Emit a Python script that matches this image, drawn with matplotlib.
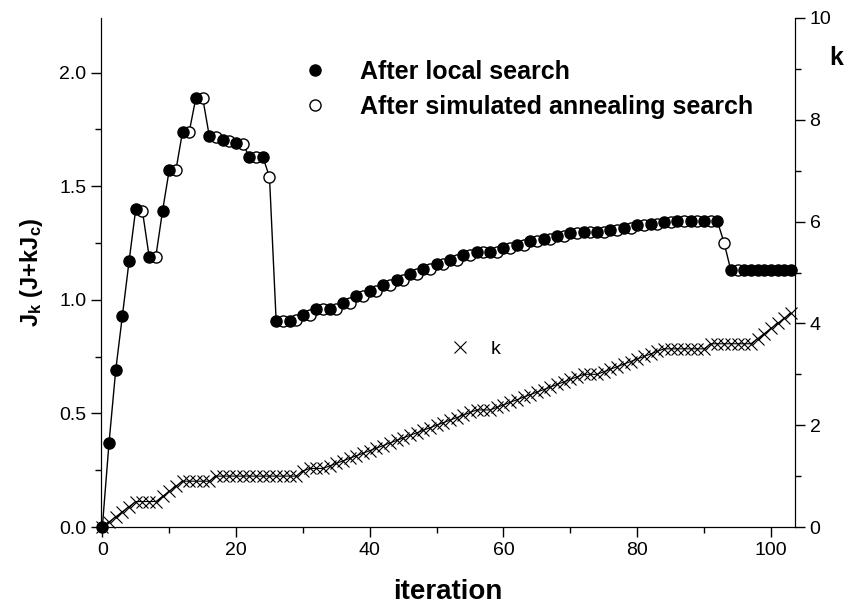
import matplotlib
matplotlib.use("Agg")
import matplotlib.pyplot as plt
import numpy as np
from matplotlib.ticker import MultipleLocator

plt.rcParams["font.family"] = ["Liberation Sans Narrow", "Liberation Sans", "DejaVu Sans"]
plt.rcParams["mathtext.fontset"] = "custom"
plt.rcParams["mathtext.rm"] = "Liberation Sans:bold"
plt.rcParams["mathtext.it"] = "Liberation Sans:bold"

# J after local search (filled circles)
iter_local = [0, 1, 2, 3, 4, 5, 7, 9, 10, 12, 14, 16, 18, 20, 22, 24, 26, 28, 30, 32,
              34, 36, 38, 40, 42, 44, 46, 48, 50, 52, 54, 56, 58, 60, 62, 64, 66, 68,
              70, 72, 74, 76, 78, 80, 82, 84, 86, 88, 90, 92, 94, 96, 97, 98, 99, 100,
              101, 102, 103]
j_local = [0.0, 0.37, 0.69, 0.93, 1.17, 1.40, 1.19, 1.39, 1.57, 1.74, 1.89, 1.72, 1.705,
           1.69, 1.63, 1.63, 0.905, 0.905, 0.935, 0.96, 0.96, 0.985, 1.015, 1.04, 1.066,
           1.088, 1.114, 1.135, 1.157, 1.176, 1.195, 1.21, 1.21, 1.228, 1.242, 1.257,
           1.269, 1.282, 1.294, 1.30, 1.30, 1.308, 1.316, 1.33, 1.335, 1.342, 1.345,
           1.345, 1.345, 1.345, 1.13, 1.13, 1.13, 1.13, 1.13, 1.13, 1.13, 1.13, 1.13]

# J after simulated annealing search (open circles)
iter_sa = [6, 8, 11, 13, 15, 17, 19, 21, 23, 25, 27, 29, 31, 33, 35, 37, 39, 41, 43, 45,
           47, 49, 51, 53, 55, 57, 59, 61, 63, 65, 67, 69, 71, 73, 75, 77, 79, 81, 83,
           85, 87, 89, 91, 93, 95]
j_sa = [1.39, 1.19, 1.57, 1.74, 1.89, 1.715, 1.70, 1.685, 1.63, 1.54, 0.905, 0.91, 0.935,
        0.96, 0.96, 0.985, 1.015, 1.04, 1.066, 1.088, 1.114, 1.135, 1.157, 1.176, 1.195,
        1.21, 1.21, 1.228, 1.242, 1.257, 1.269, 1.282, 1.294, 1.30, 1.30, 1.308, 1.316,
        1.33, 1.335, 1.342, 1.345, 1.345, 1.345, 1.25, 1.13]

# k per iteration
k_vals = [0.0, 0.1, 0.2, 0.3, 0.4, 0.5, 0.5, 0.5, 0.5, 0.6, 0.7, 0.8, 0.9, 0.9, 0.9, 0.9,
          0.9, 1.0, 1.0, 1.0, 1.0, 1.0, 1.0, 1.0, 1.0, 1.0, 1.0, 1.0, 1.0, 1.0, 1.1, 1.15,
          1.15, 1.15, 1.2, 1.25, 1.3, 1.35, 1.4, 1.45, 1.5, 1.55, 1.6, 1.65, 1.7, 1.75,
          1.8, 1.85, 1.9, 1.95, 2.0, 2.05, 2.1, 2.15, 2.2, 2.25, 2.3, 2.3, 2.3, 2.35, 2.4,
          2.45, 2.5, 2.55, 2.6, 2.65, 2.7, 2.75, 2.8, 2.85, 2.9, 2.95, 3.0, 3.0, 3.0, 3.05,
          3.1, 3.15, 3.2, 3.25, 3.3, 3.35, 3.4, 3.45, 3.5, 3.5, 3.5, 3.5, 3.5, 3.5, 3.5,
          3.6, 3.6, 3.6, 3.6, 3.6, 3.6, 3.6, 3.7, 3.8, 3.9, 4.0, 4.1, 4.2]
iter_k = np.arange(len(k_vals))

# the connecting line runs through both series in iteration order
all_iter = np.concatenate([iter_local, iter_sa])
all_j = np.concatenate([j_local, j_sa])
order = np.argsort(all_iter)

fig = plt.figure(figsize=(8.48, 6.04), dpi=100)
ax = fig.add_axes([101 / 848, 77 / 604, 694 / 848, 509 / 604])

ax.plot(all_iter[order], all_j[order], "-", color="black", lw=1.0, zorder=2)
(h_sa,) = ax.plot(iter_sa, j_sa, "o", ms=8, mfc="white", mec="black", mew=1.0,
                  zorder=3, clip_on=False, label="After simulated annealing search")
(h_loc,) = ax.plot(iter_local, j_local, "o", ms=8, mfc="black", mec="black",
                   zorder=4, clip_on=False, label="After local search")

ax.set_xlim(-0.2, 103.6)
ax.set_ylim(0, 2.24)
ax.spines["top"].set_visible(False)
ax.xaxis.set_major_locator(MultipleLocator(20))
ax.xaxis.set_minor_locator(MultipleLocator(10))
ax.yaxis.set_major_locator(MultipleLocator(0.5))
ax.yaxis.set_minor_locator(MultipleLocator(0.25))
ax.yaxis.set_major_formatter(plt.FormatStrFormatter("%.1f"))
ax.tick_params(which="major", direction="out", length=7, width=1, labelsize=14)
ax.tick_params(which="minor", direction="out", length=4, width=1)
ax.set_xlabel("iteration", fontsize=20, fontweight="bold", family="Liberation Sans",
              labelpad=15)
ax.set_ylabel(r"J$_k$ (J+kJ$_c$)", fontsize=17, fontweight="bold",
              family="Liberation Sans", labelpad=10)

ax2 = ax.twinx()
ax2.spines["top"].set_visible(False)
ax2.plot(iter_k, k_vals, "-", color="black", lw=0.8, zorder=2)
(h_k,) = ax2.plot(iter_k, k_vals, "x", ms=8, mew=0.8, color="black", zorder=3,
                  clip_on=False, label="k")
ax2.set_ylim(0, 10)
ax2.yaxis.set_major_locator(MultipleLocator(2))
ax2.yaxis.set_minor_locator(MultipleLocator(1))
ax2.tick_params(which="major", direction="out", length=7, width=1, labelsize=14)
ax2.tick_params(which="minor", direction="out", length=4, width=1)
ax2.set_ylabel("k", fontsize=18, fontweight="bold", family="Liberation Sans",
               rotation=0)
ax2.yaxis.set_label_coords(1.06, 0.945)

leg = ax2.legend([h_loc, h_sa], ["After local search", "After simulated annealing search"],
                 loc="upper left", bbox_to_anchor=(0.255, 0.962), frameon=False,
                 handlelength=1.2, handletextpad=1.2, labelspacing=0.45,
                 prop={"family": "Liberation Sans", "weight": "bold", "size": 18})
ax2.add_artist(leg)
ax2.legend([h_k], ["k"], loc="center left", bbox_to_anchor=(0.475, 0.35),
           frameon=False, handlelength=1.2, handletextpad=1.0,
           prop={"family": "Liberation Sans", "size": 14})

fig.savefig("out.png", dpi=100)
